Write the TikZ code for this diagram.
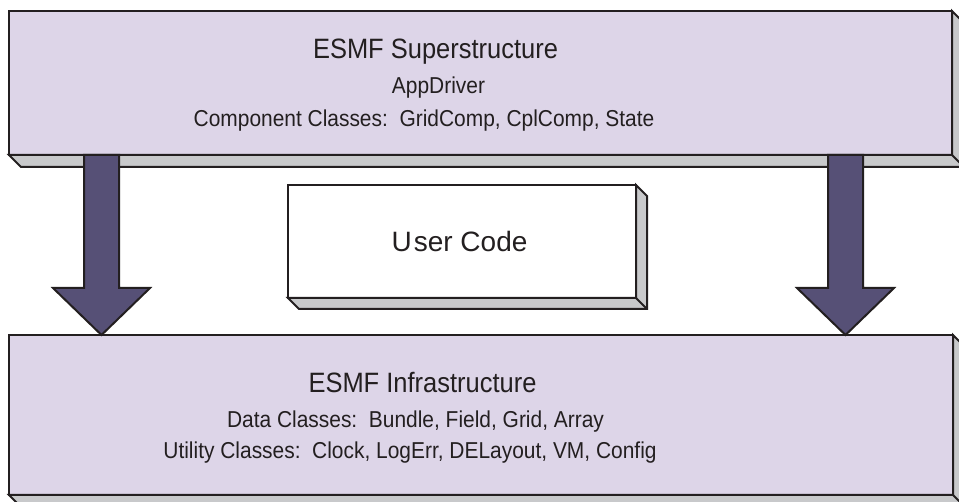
\documentclass[tikz,border=0pt]{standalone}
\usepackage{fontspec}
\setmainfont{Liberation Sans}
\newfontfamily\condensedsans[FakeStretch=0.91]{Liberation Sans}
\usetikzlibrary{calc}
\definecolor{boxfill}{HTML}{DDD5E8}
\definecolor{shadegray}{HTML}{C8C9CB}
\definecolor{arrowfill}{HTML}{565076}
\definecolor{ink}{HTML}{231F20}
\begin{document}
\begin{tikzpicture}[x=1pt,y=-1pt,
  panel/.style={draw=ink,line width=2pt,fill=boxfill,inner sep=0pt,outer sep=0pt,rectangle},
  whitepanel/.style={panel,fill=white},
  extrude/.style={fill=shadegray,draw=ink,line width=2pt,line join=miter},
  blockarrow/.style={fill=arrowfill,draw=ink,line width=2pt,line join=miter},
  txt/.style={text=ink,inner sep=0pt,anchor=base},
  big/.style={txt,font=\condensedsans\fontsize{28}{32}\selectfont},
  small/.style={txt,font=\condensedsans\fontsize{23}{27}\selectfont}]
\useasboundingbox (0,0) rectangle (959,502);
\clip (0,0) rectangle (959,502);
% top box
\node[panel,minimum width=943pt,minimum height=144pt] (sup) at (480.5,83) {};
\draw[extrude] (sup.south west) -- ++(12,12) -- ($(sup.south east)+(12,12)$) -- ($(sup.north east)+(12,12)$) -- (sup.north east) -- (sup.south east) -- cycle;
\draw[ink,line width=2pt] (sup.south east) -- ++(12,12);
\node[big] (supt) at (435.5,59) {ESMF Superstructure};
\node[small] (supa) at (438.5,93.5) {AppDriver};
\node[small] (supc) at (424,127) {Component Classes:\ \ GridComp, CplComp, State};
% user code box
\node[whitepanel,minimum width=348pt,minimum height=113pt] (user) at (462,241.5) {};
\draw[extrude] (user.south west) -- ++(11,11) -- ($(user.south east)+(11,11)$) -- ($(user.north east)+(11,11)$) -- (user.north east) -- (user.south east) -- cycle;
\draw[ink,line width=2pt] (user.south east) -- ++(11,11);
\node[txt,font=\fontsize{28}{32}\selectfont] (usert) at (459.5,252) {U\kern2pt ser Code};
% bottom box
\node[panel,minimum width=944pt,minimum height=160pt] (inf) at (481,415) {};
\draw[extrude] (inf.south west) -- ++(12,12) -- ($(inf.south east)+(12,12)$) -- ($(inf.north east)+(12,12)$) -- (inf.north east) -- (inf.south east) -- cycle;
\draw[ink,line width=2pt] (inf.south east) -- ++(12,12);
\node[big] (inft) at (422.5,393) {ESMF Infrastructure};
\node[small] (infd) at (415.5,428) {Data Classes:\ \ Bundle, Field, Grid, Array};
\node[small] (infu) at (410,459) {Utility Classes:\ \ Clock, LogErr, DELayout, VM, Config};
% arrows
\coordinate (lx) at (101.5,0);
\coordinate (rx) at (845.5,0);
\foreach \c in {lx,rx}{
\draw[blockarrow] ($(\c|-sup.south)+(-17.5,0)$) -- ($(\c|-inf.north)+(-17.5,-47)$) -- ($(\c|-inf.north)+(-48.5,-47)$) -- (\c|-inf.north) -- ($(\c|-inf.north)+(48.5,-47)$) -- ($(\c|-inf.north)+(17.5,-47)$) -- ($(\c|-sup.south)+(17.5,0)$) -- cycle;
}
\end{tikzpicture}
\end{document}
